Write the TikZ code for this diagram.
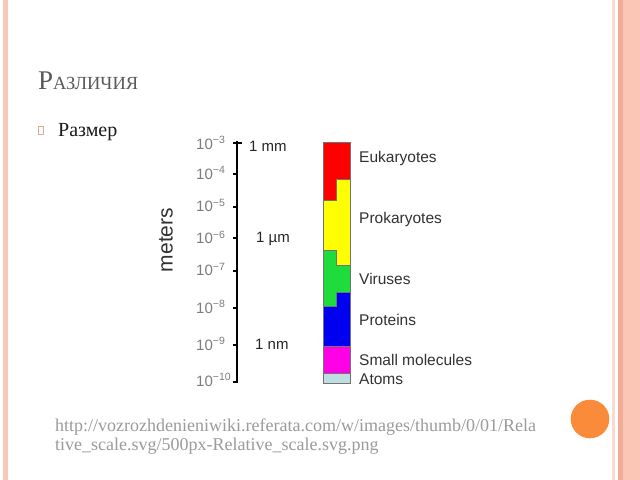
\documentclass[tikz,border=0pt]{standalone}
\usepackage{fontspec}
\setmainfont{Liberation Serif}
\newfontfamily\diagsans{Liberation Sans}
\definecolor{bordpink}{RGB}{250,200,185}
\definecolor{bordpale}{RGB}{250,218,208}
\definecolor{borddark}{RGB}{240,172,150}
\definecolor{bordmid}{RGB}{252,198,182}
\definecolor{dotorange}{RGB}{249,139,58}
\definecolor{titlegray}{RGB}{90,90,90}
\definecolor{urlgray}{RGB}{155,155,155}
\definecolor{tickgray}{RGB}{125,125,125}
\definecolor{labgray}{RGB}{50,50,50}
\definecolor{cred}{RGB}{255,0,0}
\definecolor{cyellow}{RGB}{255,255,0}
\definecolor{cgreen}{RGB}{30,220,60}
\definecolor{cblue}{RGB}{0,0,240}
\definecolor{cmagenta}{RGB}{255,0,230}
\definecolor{catoms}{RGB}{190,222,225}
\definecolor{bulletpink}{RGB}{225,170,150}
\tikzset{
  bandseg/.style={draw=black!55, line width=0.5bp},
  ticklab/.style={anchor=west, inner sep=0pt, text=tickgray, font=\diagsans\fontsize{15bp}{17bp}\selectfont},
  unitlab/.style={anchor=west, inner sep=0pt, text=black!85, font=\diagsans\fontsize{15bp}{17bp}\selectfont},
  grouplab/.style={anchor=west, inner sep=0pt, text=labgray, font=\diagsans\fontsize{15.5bp}{17bp}\selectfont},
  urllab/.style={anchor=base west, inner sep=0pt, text=urlgray, font=\fontsize{18bp}{20bp}\selectfont},
}
\begin{document}
\begin{tikzpicture}[x=1bp,y=-1bp]
\useasboundingbox (0,0) rectangle (640,480);
\fill[white] (0,0) rectangle (640,480);
% slide borders
\fill[bordpink] (3,0) rectangle (7.5,480);
\fill[bordpale] (611.7,0) rectangle (615,480);
\fill[borddark] (618,0) rectangle (623,480);
\fill[bordmid] (623,0) rectangle (640,480);
% orange dot
\fill[dotorange] (590,419) circle[radius=19.3];
% title and bullet
\node[anchor=base west, inner sep=0pt, text=titlegray] (title) at (38,90)
  {\fontsize{27bp}{30bp}\selectfont Р\fontsize{18.5bp}{20bp}\selectfont АЗЛИЧИЯ};
\draw[bulletpink, line width=0.7bp] (38.5,126.5) rectangle (43.5,134) ;
\node[anchor=base west, inner sep=0pt, text=black!90, font=\fontsize{20bp}{22bp}\selectfont] (razmer) at (58,137) {Размер};
% axis
\draw[line width=2.4bp, line cap=rect] (237,142.7) -- (237,381.5);
\draw[line width=2bp] (232.8,142.7) -- (241.8,142.7);
\draw[line width=2bp] (232.8,381.5) -- (238,381.5);
\foreach \yy in {174,206.7,238.3,270.7,308.3,345} {
  \draw[line width=2bp] (233,\yy) -- (237,\yy);
}
\node[ticklab] (t3) at (196,143) {10\textsuperscript{−3}};
\node[ticklab] (t4) at (196,173) {10\textsuperscript{−4}};
\node[ticklab] (t5) at (196,205.5) {10\textsuperscript{−5}};
\node[ticklab] (t6) at (196,237.5) {10\textsuperscript{−6}};
\node[ticklab] (t7) at (196,269.5) {10\textsuperscript{−7}};
\node[ticklab] (t8) at (196,307) {10\textsuperscript{−8}};
\node[ticklab] (t9) at (196,344) {10\textsuperscript{−9}};
\node[ticklab] (t10) at (196,380) {10\textsuperscript{−10}};
\node[unitlab] (mm) at (249,146) {1 mm};
\node[unitlab] (um) at (256,239) {1 µm};
\node[unitlab] (nm) at (255,344) {1 nm};
\node[rotate=90, inner sep=0pt, text=labgray, font=\diagsans\fontsize{21bp}{23bp}\selectfont] (meters) at (166,240) {meters};
% colour bar
\filldraw[bandseg, fill=cred] (323,142.7) -- (350,142.7) -- (350,179.3) -- (336.7,179.3) -- (336.7,200.7) -- (323,200.7) -- cycle;
\filldraw[bandseg, fill=cyellow] (323,200.7) -- (336.7,200.7) -- (336.7,179.3) -- (350,179.3) -- (350,265) -- (336.7,265) -- (336.7,250) -- (323,250) -- cycle;
\filldraw[bandseg, fill=cgreen] (323,250) -- (336.7,250) -- (336.7,265) -- (350,265) -- (350,292.7) -- (336.7,292.7) -- (336.7,306.7) -- (323,306.7) -- cycle;
\filldraw[bandseg, fill=cblue] (323,306.7) -- (336.7,306.7) -- (336.7,292.7) -- (350,292.7) -- (350,346.7) -- (323,346.7) -- cycle;
\filldraw[bandseg, fill=cmagenta] (323,346.7) rectangle (350,373);
\filldraw[bandseg, fill=catoms] (323,373) rectangle (350,383);
\node[grouplab] (euk) at (359,158) {Eukaryotes};
\node[grouplab] (prok) at (359,219.5) {Prokaryotes};
\node[grouplab] (vir) at (359,278.5) {Viruses};
\node[grouplab] (prot) at (359,319.5) {Proteins};
\node[grouplab] (small) at (359,359.5) {Small molecules};
\node[grouplab] (atoms) at (359,379) {Atoms};
% source url
\node[urllab] (url1) at (55,431) {http://vozrozhdenieniwiki.referata.com/w/images/thumb/0/01/Rela};
\node[urllab] (url2) at (55,450.5) {tive\_scale.svg/500px-Relative\_scale.svg.png};
\end{tikzpicture}
\end{document}
